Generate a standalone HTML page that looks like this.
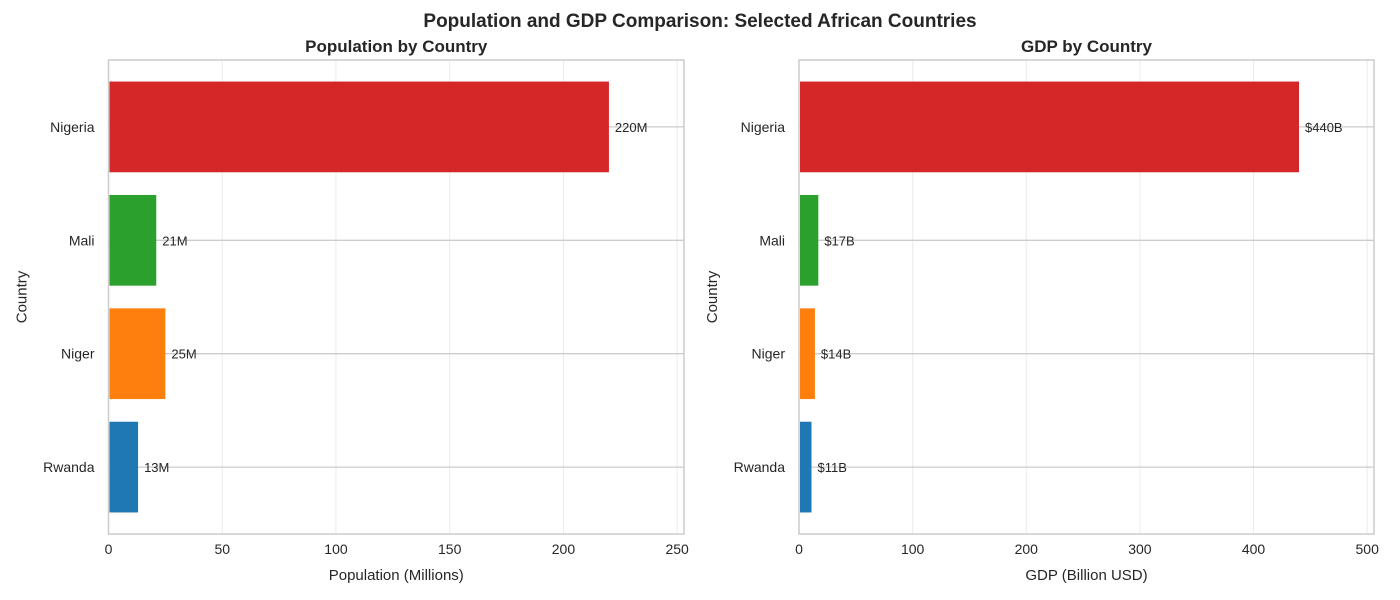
<!DOCTYPE html>
<html><head><meta charset="utf-8"><style>
body{margin:0;background:#fff;}
svg{display:block;font-family:"Liberation Sans","DejaVu Sans",sans-serif;}
</style></head><body>
<svg id="c" width="1400" height="600"></svg>
<script>
const countries = ["Nigeria","Mali","Niger","Rwanda"];
const colors = ["#d62728","#2ca02c","#ff7f0e","#1f77b4"];
const population = [220,21,25,13];
const gdp = [440,17,14,11];
const popTicks = [0,50,100,150,200,250];
const gdpTicks = [0,100,200,300,400,500];
const popLabels = ["220M","21M","25M","13M"];
const gdpLabels = ["$440B","$17B","$14B","$11B"];

const svg = document.getElementById('c');
const NS = 'http://www.w3.org/2000/svg';
function mk(tag, attrs, parent, text){
  const e = document.createElementNS(NS, tag);
  for (const k in attrs) e.setAttribute(k, attrs[k]);
  if (text !== undefined) e.textContent = text;
  (parent||svg).appendChild(e);
  return e;
}
const title = mk('text',{x:700,y:27,'text-anchor':'middle','font-size':19,'font-weight':'bold',fill:'#262626'},svg,'Population and GDP Comparison: Selected African Countries');



function panel(name, left, right, values, ticks, labels, ttl, xlab){
  const top = 60, bottom = 534;
  const xmax = Math.max(...values)*1.15;
  const xs = v => left + (v/xmax)*(right-left);
  const ymin = -0.59, ymax = 3.59;
  // category index: Nigeria at top (index 3 from bottom)
  const n = countries.length;
  const ys = i => { const pos = n-1-i; return bottom - (pos - ymin)/(ymax-ymin)*(bottom-top); };
  const g = mk('g',{});
  
  
  // vertical grid
  ticks.forEach(t=>{
    const x = xs(t);
    const l = mk('line',{x1:x,x2:x,y1:top,y2:bottom,stroke:'#ebebeb','stroke-width':1},g);
    
    
    const tl = mk('text',{x:x,y:bottom+20,'text-anchor':'middle','font-size':14,fill:'#262626'},g,String(t));
    
    
  });
  // horizontal grid
  countries.forEach((c,i)=>{
    const y = ys(i);
    const l = mk('line',{x1:left,x2:right,y1:y,y2:y,stroke:'#cccccc','stroke-width':1.3},g);
    
    
    const tl = mk('text',{x:left-14,y:y+5,'text-anchor':'end','font-size':14,fill:'#262626'},g,c);
    
    
  });
  const bh = 0.8/(ymax-ymin)*(bottom-top);
  values.forEach((v,i)=>{
    const y = ys(i);
    const r = mk('rect',{x:xs(0)+1,y:y-bh/2,width:xs(v)-xs(0)-1,height:bh,fill:colors[i]},g);
    
    
    const t = mk('text',{x:xs(v)+6,y:y+5,'font-size':13,fill:'#262626'},g,labels[i]);
    
    
  });
  const fr = mk('rect',{x:left,y:top,width:right-left,height:bottom-top,fill:'none',stroke:'#cccccc','stroke-width':1.5},g);
  
  
  const tt = mk('text',{x:(left+right)/2,y:52,'text-anchor':'middle','font-size':17,'font-weight':'bold',fill:'#262626'},g,ttl);
  
  
  const xl = mk('text',{x:(left+right)/2,y:580,'text-anchor':'middle','font-size':15,fill:'#262626'},g,xlab);
  
  
  const yl = mk('text',{x:0,y:0,'text-anchor':'middle','font-size':15,fill:'#262626',transform:`translate(${left-82},${(top+bottom)/2}) rotate(-90)`},g,'Country');
  
  
}
panel('population',108.5,684,population,popTicks,popLabels,'Population by Country','Population (Millions)');
panel('gdp',799,1374,gdp,gdpTicks,gdpLabels,'GDP by Country','GDP (Billion USD)');
</script>
</body></html>
